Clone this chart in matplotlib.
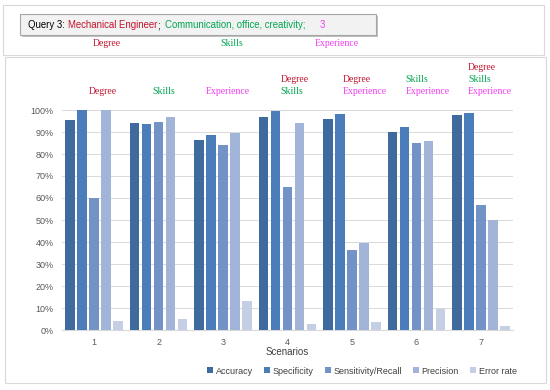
import matplotlib
matplotlib.use("Agg")
import matplotlib.pyplot as plt
import numpy as np
from matplotlib.patches import Rectangle

scenarios = ["1", "2", "3", "4", "5", "6", "7"]
series_names = ["Accuracy", "Specificity", "Sensitivity/Recall", "Precision", "Error rate"]
accuracy = [95.5, 94.2, 86.2, 96.8, 96.0, 89.9, 97.9]
specificity = [99.8, 93.7, 88.6, 99.5, 98.1, 92.3, 98.6]
sensitivity = [60.2, 94.7, 84.1, 65.0, 36.2, 85.2, 56.8]
precision = [99.8, 96.7, 89.5, 94.2, 39.7, 85.9, 49.8]
error_rate = [4.1, 5.2, 13.0, 2.6, 3.5, 9.6, 1.8]
yticklabels = ["0%", "10%", "20%", "30%", "40%", "50%", "60%", "70%", "80%", "90%", "100%"]
group_labels = [["Degree"], ["Skills"], ["Experience"], ["Degree", "Skills"],
                ["Degree", "Experience"], ["Skills", "Experience"],
                ["Degree", "Skills", "Experience"]]
header_labels = ["Degree", "Skills", "Experience"]
query_parts = [("Query 3:", "black"), ("Mechanical Engineer", "#C0152F"), (";", "black"),
               ("Communication, office, creativity;", "#00A651"), ("3", "#F03CF0")]
query_gaps = [0, 3, 0, 5, 14]

colors = ["#3E6A9E", "#4A7DBA", "#7393C6", "#A2B5D8", "#C4CFE6"]
label_colors = {"Degree": "#C0152F", "Skills": "#00A651", "Experience": "#F03CF0"}

W, H = 550, 390
fig = plt.figure(figsize=(5.5, 3.9), dpi=100)
fig.patch.set_facecolor("white")

def fx(px):
    return px / W

def fy(py):
    return 1 - py / H

# panel borders
fig.patches.append(Rectangle((fx(3), fy(55)), fx(544) - fx(3), fy(5) - fy(55),
                             transform=fig.transFigure, fill=False, ec="#D9D9D9", lw=0.8))
fig.patches.append(Rectangle((fx(5), fy(383)), fx(546) - fx(5), fy(57) - fy(383),
                             transform=fig.transFigure, fill=False, ec="#D9D9D9", lw=0.8))
# query box with shadow
fig.patches.append(Rectangle((fx(22), fy(37)), fx(378) - fx(22), fy(16) - fy(37),
                             transform=fig.transFigure, fc="#BFBFBF", ec="none"))
fig.patches.append(Rectangle((fx(20), fy(35)), fx(376) - fx(20), fy(14) - fy(35),
                             transform=fig.transFigure, fc="#F2F2F2", ec="#A6A6A6", lw=0.8))

renderer = fig.canvas.get_renderer()
xcur = fx(28)
for (txt, col), gap in zip(query_parts, query_gaps):
    xcur += gap / W
    t = fig.text(xcur, fy(25), txt, color=col, fontsize=6.9, family="Liberation Sans",
                 ha="left", va="center")
    bb = t.get_window_extent(renderer)
    xcur += bb.width / W

for lab, cx in zip(header_labels, [107, 232, 337]):
    fig.text(fx(cx), fy(44), lab, color=label_colors[lab], fontsize=7,
             family="Liberation Serif", ha="center", va="center")

ax = fig.add_axes([fx(62), fy(330), fx(513) - fx(62), fy(110) - fy(330)])
x = np.arange(len(scenarios))
data = [accuracy, specificity, sensitivity, precision, error_rate]
stride = 0.186
for i, (vals, name, c) in enumerate(zip(data, series_names, colors)):
    ax.bar(x + (i - 2) * stride, np.array(vals) / 100, width=stride * 0.8, color=c,
           label=name, zorder=3)

ax.set_xlim(-0.5, len(scenarios) - 0.5)
ax.set_ylim(0, 1.0)
ax.set_yticks(np.linspace(0, 1, 11))
ax.set_yticklabels(yticklabels)
ax.set_xticks(x)
ax.set_xticklabels(scenarios)
ax.tick_params(axis="both", length=0, labelsize=6.5, labelcolor="#595959", pad=6)
for lbl in ax.get_xticklabels() + ax.get_yticklabels():
    lbl.set_family("Liberation Sans")
ax.grid(axis="y", color="#D9D9D9", lw=0.7, zorder=0)
for s in ["top", "right", "left"]:
    ax.spines[s].set_visible(False)
ax.spines["bottom"].set_color("#D9D9D9")
ax.set_xlabel("Scenarios", fontsize=7, color="#404040", family="Liberation Sans", labelpad=0)

# scenario annotations above groups
offsets = [0.14, 0.08, 0.07, -0.11, -0.14, -0.17, -0.20]
aligns = ["center", "center", "center", "left", "left", "left", "left"]
for gi, labs in enumerate(group_labels):
    n = len(labs)
    for li, lab in enumerate(labs):
        yv = 1.082 + (n - 1 - li) * 0.055
        ax.text(gi + offsets[gi], yv, lab, color=label_colors[lab], fontsize=7,
                family="Liberation Serif", ha=aligns[gi], va="center", clip_on=False)

leg = fig.legend(loc="center", bbox_to_anchor=(fx(362), fy(371)), ncol=5, frameon=False,
                 handlelength=0.6, handleheight=0.6, handletextpad=0.3,
                 columnspacing=1.3, prop={"family": "Liberation Sans", "size": 6.5})
for t in leg.get_texts():
    t.set_color("#404040")

fig.savefig("out.png", dpi=100)
